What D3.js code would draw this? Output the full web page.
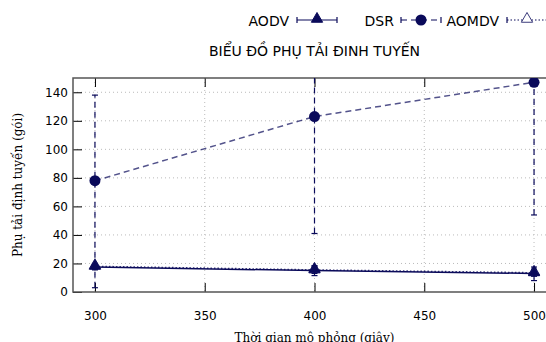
<!DOCTYPE html>
<html>
<head>
<meta charset="utf-8">
<script src="https://cdn.jsdelivr.net/npm/d3@7"></script>
<style>
  body { margin: 0; background: #fff; }
  svg { display: block; }
  .tick text { font-family: "DejaVu Sans", sans-serif; font-size: 12px; fill: #000; }
</style>
</head>
<body>
<svg id="chart" width="546" height="342"></svg>
<script>
var times = [300, 400, 500];
var xTicks = [300, 350, 400, 450, 500];
var yTicks = [0, 20, 40, 60, 80, 100, 120, 140];

// mean and error (low, high) per series
var aodv = [17.5, 15, 13];
var aodvLow = [15.5, 11.5, 8];
var aodvHigh = [19.5, 18.5, 17.5];
var dsr = [78, 123, 147];
var dsrLow = [3, 41, 54];
var dsrHigh = [138, 205, 240];
var aomdv = [18, 15.5, 13.5];
var aomdvLow = [16, 13, 11];
var aomdvHigh = [20, 18, 16];

var series = [
  { name: "AODV", mean: aodv, low: aodvLow, high: aodvHigh, dash: null, sym: "tri", fill: true, opacity: 1 },
  { name: "DSR", mean: dsr, low: dsrLow, high: dsrHigh, dash: "6,4", sym: "circle", fill: true, opacity: 0.7 },
  { name: "AOMDV", mean: aomdv, low: aomdvLow, high: aomdvHigh, dash: "1.5,2", sym: "tri", fill: false, opacity: 0.8 }
];

var color = "#0a0a5a";
var svg = d3.select("#chart"),
  margin = { left: 73, top: 78, right: 556, bottom: 292 };

var x = d3.scaleLinear().domain([290, 510]).range([margin.left, margin.right]);
var y = d3.scaleLinear().domain([0, 150]).range([margin.bottom, margin.top]);

svg.append("defs").append("clipPath").attr("id", "clip")
  .append("rect")
    .attr("x", margin.left).attr("y", margin.top)
    .attr("width", margin.right - margin.left).attr("height", margin.bottom - margin.top);

// grid
var grid = svg.append("g").attr("stroke", "#bbb").attr("stroke-dasharray", "1,3").attr("stroke-width", 1);
grid.selectAll(".gx").data(xTicks).enter().append("line")
  .attr("x1", function(d) { return x(d); }).attr("x2", function(d) { return x(d); })
  .attr("y1", margin.top).attr("y2", margin.bottom);
grid.selectAll(".gy").data(yTicks.slice(1)).enter().append("line")
  .attr("y1", function(d) { return y(d); }).attr("y2", function(d) { return y(d); })
  .attr("x1", margin.left).attr("x2", margin.right);

// axes
svg.append("g")
  .attr("transform", "translate(0," + margin.bottom + ")")
  .call(d3.axisBottom(x).tickValues(xTicks).tickSize(-9).tickPadding(19))
  .call(function(g) { g.select(".domain").remove(); });
svg.append("g")
  .attr("transform", "translate(" + margin.left + ",0)")
  .call(d3.axisLeft(y).tickValues(yTicks).tickSize(-9).tickPadding(5))
  .call(function(g) { g.select(".domain").remove(); });
svg.append("g")
  .attr("transform", "translate(0," + margin.top + ")")
  .call(d3.axisTop(x).tickValues(xTicks).tickSize(-9).tickFormat(""))
  .call(function(g) { g.select(".domain").remove(); });
svg.selectAll(".tick line").attr("stroke", "#000");

svg.append("rect")
  .attr("x", margin.left).attr("y", margin.top)
  .attr("width", margin.right - margin.left).attr("height", margin.bottom - margin.top)
  .attr("fill", "none").attr("stroke", "#555").attr("stroke-width", 1.5);

var triPath = d3.symbol().type(d3.symbolTriangle).size(55);

function drawSymbol(g, s, cx, cy) {
  if (s.sym === "circle") {
    g.append("circle").attr("cx", cx).attr("cy", cy).attr("r", 5.5).attr("fill", color);
  } else {
    g.append("path").attr("d", triPath()).attr("transform", "translate(" + cx + "," + (cy - 1) + ")")
      .attr("fill", s.fill ? color : "#fff").attr("stroke", color).attr("stroke-width", s.fill ? 1 : 0.8);
  }
}

var plot = svg.append("g").attr("clip-path", "url(#clip)");

// draw back to front: AOMDV, DSR, AODV
[series[2], series[1], series[0]].forEach(function(s) {
  var g = plot.append("g");
  var line = d3.line().x(function(d, i) { return x(times[i]); }).y(function(d) { return y(d); });
  g.append("path").datum(s.mean).attr("d", line)
    .attr("fill", "none").attr("stroke", color).attr("stroke-width", 1.5)
    .attr("stroke-opacity", s.opacity).attr("stroke-dasharray", s.dash);
  times.forEach(function(t, i) {
    var cx = x(t);
    g.append("line").attr("x1", cx).attr("x2", cx).attr("y1", y(s.low[i])).attr("y2", y(s.high[i]))
      .attr("stroke", color).attr("stroke-width", 1.2).attr("stroke-dasharray", s.dash);
    [s.low[i], s.high[i]].forEach(function(v) {
      g.append("line").attr("x1", cx - 3).attr("x2", cx + 3).attr("y1", y(v)).attr("y2", y(v))
        .attr("stroke", color).attr("stroke-width", 1.2);
    });
    drawSymbol(g, s, cx, y(s.mean[i]));
  });
});

// legend
var legendItems = [
  { s: series[0], textRight: 289, x0: 297, x1: 337 },
  { s: series[1], textRight: 394, x0: 401, x1: 441 },
  { s: series[2], textRight: 499, x0: 507, x1: 547 }
];
var ly = 20;
legendItems.forEach(function(it) {
  var g = svg.append("g");
  g.append("text").attr("x", it.textRight).attr("y", ly + 5.5).attr("text-anchor", "end")
    .attr("font-family", "DejaVu Sans, sans-serif").attr("font-size", 14).text(it.s.name);
  g.append("line").attr("x1", it.x0).attr("x2", it.x1).attr("y1", ly).attr("y2", ly)
    .attr("stroke", color).attr("stroke-width", 1.2).attr("stroke-dasharray", it.s.dash);
  [it.x0, it.x1].forEach(function(px) {
    g.append("line").attr("x1", px).attr("x2", px).attr("y1", ly - 3).attr("y2", ly + 3)
      .attr("stroke", color).attr("stroke-width", 1.2);
  });
  drawSymbol(g, it.s, (it.x0 + it.x1) / 2, ly);
});

// title and axis labels
svg.append("text").attr("x", x(400)).attr("y", 55.5).attr("text-anchor", "middle")
  .attr("font-family", "DejaVu Sans, sans-serif").attr("font-size", 14)
  .text("BIỂU ĐỒ PHỤ TẢI ĐINH TUYẾN");
svg.append("text").attr("transform", "translate(22," + y(75) + ") rotate(-90)")
  .attr("text-anchor", "middle").attr("font-family", "DejaVu Serif, serif").attr("font-size", 12)
  .text("Phụ tải định tuyến (gói)");
svg.append("text").attr("x", x(400)).attr("y", 342).attr("text-anchor", "middle")
  .attr("font-family", "DejaVu Serif, serif").attr("font-size", 12)
  .text("Thời gian mô phỏng (giây)");
</script>
</body>
</html>
